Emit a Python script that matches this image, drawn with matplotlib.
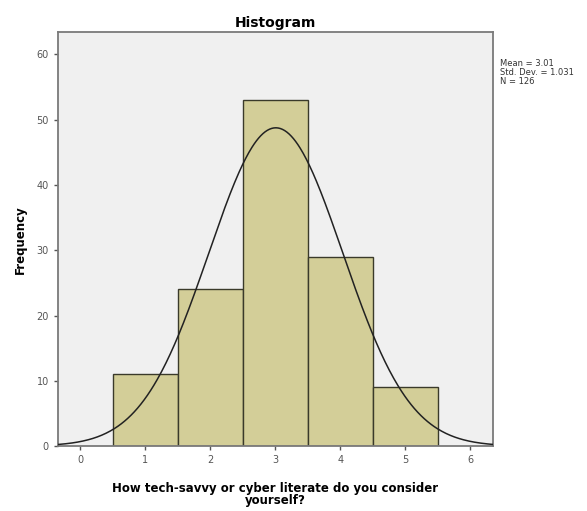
import numpy as np
import matplotlib.pyplot as plt

# answer scale and counts per answer
scores = [1, 2, 3, 4, 5]
counts = [11, 24, 53, 29, 9]
mean = 3.01
std_dev = 1.031
n_total = 126

fig = plt.figure(figsize=(5.87, 5.11), dpi=100)
ax = fig.add_axes([0.0988, 0.127, 0.741, 0.81])
ax.set_facecolor("#F0F0F0")

ax.bar(scores, counts, width=1.0, color="#D3CE98", edgecolor="#3a3a2a",
       linewidth=1.0, zorder=2)

# normal curve scaled to the histogram (bin width 1)
xs = np.linspace(-0.34, 6.35, 400)
ys = n_total * np.exp(-0.5 * ((xs - mean) / std_dev) ** 2) / (std_dev * np.sqrt(2 * np.pi))
ax.plot(xs, ys, color="#222222", linewidth=1.1, zorder=3)

ax.set_xlim(-0.34, 6.35)
ax.set_ylim(0, 63.4)
ax.set_xticks(range(0, 7))
ax.set_yticks(range(0, 61, 10))
ax.tick_params(labelsize=7, colors="#555555", length=3, width=1)
for s in ax.spines.values():
    s.set_color("#7a7a7a")
    s.set_linewidth(1.3)

ax.set_title("Histogram", fontsize=10, fontweight="bold", pad=4)
ax.set_ylabel("Frequency", fontsize=8.5, fontweight="bold", labelpad=7)
ax.set_xlabel("How tech-savvy or cyber literate do you consider\nyourself?",
              fontsize=8.5, fontweight="bold", labelpad=12, linespacing=0.95)

fig.text(0.852, 0.885, f"Mean = {mean:.2f}\nStd. Dev. = {std_dev}\nN = {n_total}",
         fontsize=6, color="#333333", va="top", ha="left", linespacing=1.0)

plt.savefig("out.png", dpi=100)
